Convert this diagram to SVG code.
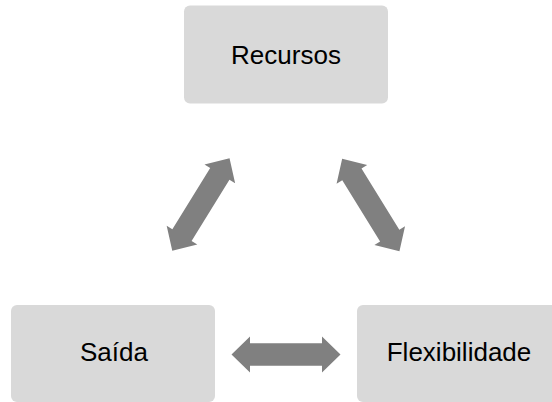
<svg xmlns="http://www.w3.org/2000/svg" width="552" height="402" viewBox="0 0 552 402">
  <defs>
    <style>
      .box { fill: #d9d9d9; }
      .label { font-family: "Liberation Sans", Arial, sans-serif; font-size: 26px; fill: #000; text-anchor: middle; dominant-baseline: central; }
      .arrow { fill: #808080; }
    </style>
    <!-- double-headed block arrow, centred on the origin, pointing along x -->
    <path id="dbl-arrow" d="M-54.5,0 L-36,-18 L-36,-11.3 L36,-11.3 L36,-18 L54.5,0 L36,18 L36,11.3 L-36,11.3 L-36,18 Z"/>
  </defs>
  <rect width="552" height="402" fill="#fff"/>

  <g id="connectors">
    <use href="#dbl-arrow" class="arrow" transform="translate(200.9,204.5) rotate(-58.3)"/>
    <use href="#dbl-arrow" class="arrow" transform="translate(370.8,205) rotate(58.3)"/>
    <use href="#dbl-arrow" class="arrow" transform="translate(286,354.5)"/>
  </g>

  <g id="recursos">
    <rect class="box" x="184" y="5.5" width="204" height="98" rx="6"/>
    <text class="label" x="286" y="54.5">Recursos</text>
  </g>

  <g id="saida">
    <rect class="box" x="11" y="305" width="204" height="97" rx="6"/>
    <text class="label" x="114" y="352">Saída</text>
  </g>

  <g id="flexibilidade">
    <rect class="box" x="357" y="305" width="204" height="97" rx="6"/>
    <text class="label" x="459" y="352">Flexibilidade</text>
  </g>
</svg>
